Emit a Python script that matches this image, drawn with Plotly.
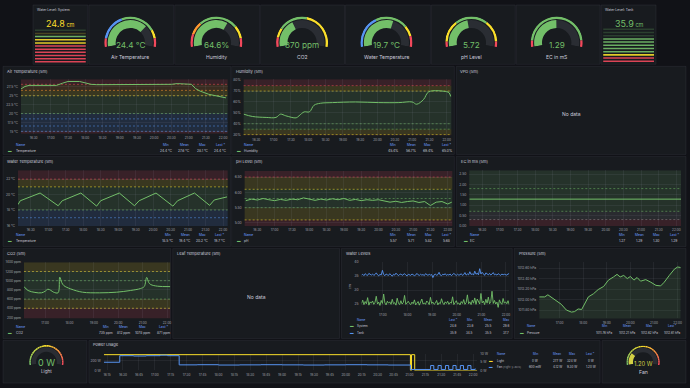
import plotly.graph_objects as go

FONT = "Inter"
W, H = 690, 388
DAY = "2024-06-01 "

BG = "#111217"; PANEL = "#181b1f"; BORDER = "rgba(204,204,220,0.07)"
TXT = "#ccccdc"; TICK = "#a3a5ad"; HDR = "#6e9fff"; GRID = "rgba(204,204,220,0.07)"
GREEN = "#73bf69"; YELLOW = "#fade2a"; RED = "#f2495c"; BLUE = "#5794f2"
ORANGE = "#ff9830"; GRAY = "#8e8e8e"; ARCBG = "#2a2d33"

# ---------------- DATA ----------------
lvl_system_value = 24.8
lvl_tank_value = 35.9
air_value, hum_value, co2_value = 24.4, 64.6, 870
wt_value, ph_value, ec_value = 19.7, 5.72, 1.29
light_value, fan_value = 0.0, 1.20

air_time = ["16:08", "16:15", "16:22", "17:10", "17:20", "17:30", "17:50", "18:00", "18:10", "18:20",
            "19:30", "20:30", "20:40", "20:55", "21:05", "21:12", "21:20", "21:35", "21:50", "22:05"]
air_temp = [26.9, 27.6, 27.9, 27.9, 28.5, 29.0, 29.0, 28.5, 28.2, 28.1,
            28.1, 28.2, 28.4, 28.4, 28.2, 27.0, 26.3, 25.4, 24.9, 24.4]

hum_time = ["16:08", "16:23", "16:47", "17:04", "17:12", "17:21", "17:39", "17:44", "17:53", "18:02", "18:10",
            "18:21", "18:42", "19:22", "20:02", "20:37", "21:00", "21:08", "21:20", "21:29", "22:00", "22:04", "22:07"]
hum = [48.8, 46.7, 45.8, 45.8, 48.8, 47.3, 45.4, 47.3, 50.9, 50.9, 57.0,
       58.8, 59.4, 60.0, 59.4, 59.4, 60.0, 57.9, 62.4, 69.4, 69.4, 68.5, 65.0]

wt_time = ["16:08", "16:12", "16:46", "17:17", "17:24", "17:56", "18:23", "18:30", "19:02",
           "19:28", "19:36", "20:05", "20:34", "20:42", "21:11", "21:37", "21:45", "22:07"]
wt = [18.7, 19.2, 20.2, 18.55, 19.2, 20.2, 18.5, 19.2, 20.2,
      18.55, 19.2, 20.2, 18.5, 19.2, 20.2, 18.6, 19.3, 19.7]

ph_time = ["16:10", "16:20", "16:30", "16:40", "16:50", "17:00", "17:10", "17:20", "17:30", "17:40",
           "17:50", "18:00", "18:10", "18:20", "18:30", "18:40", "18:50", "19:00", "19:10", "19:20",
           "19:30", "19:40", "19:50", "20:00", "20:10", "20:20", "20:30", "20:40", "20:50", "21:00",
           "21:10", "21:20", "21:30", "21:40", "21:50", "22:00", "22:07"]
ph = [5.73, 5.78, 5.75, 5.80, 5.76, 5.73, 5.77, 5.74, 5.78, 5.76,
      5.82, 5.77, 5.74, 5.78, 5.75, 5.79, 5.76, 5.80, 5.74, 5.77,
      5.73, 5.76, 5.74, 5.76, 5.72, 5.68, 5.71, 5.67, 5.70, 5.72,
      5.67, 5.70, 5.57, 5.68, 5.70, 5.62, 5.68]

ec_time = ["16:08", "16:38", "17:08", "17:38", "18:08", "18:38", "19:08", "19:38", "20:08", "20:38", "21:08", "21:38", "22:08"]
ec = [1.29, 1.29, 1.28, 1.29, 1.30, 1.29, 1.29, 1.28, 1.27, 1.28, 1.29, 1.29, 1.29]

co2_time = ["16:08", "16:18", "16:35", "16:51", "17:00", "17:07", "17:14", "17:21", "17:32", "17:36", "17:41", "17:46",
            "18:03", "18:32", "19:14", "19:56", "20:30", "20:55", "21:04", "21:10", "21:15", "21:20", "21:37", "22:08"]
co2 = [873, 787, 745, 736, 770, 815, 790, 750, 738, 1078, 960, 894,
       821, 750, 736, 750, 787, 830, 873, 1072, 960, 916, 880, 871]

lvl_tank = [35.4, 35.7, 35.2, 35.9, 35.5, 35.3, 36.0, 35.6, 35.4, 35.8,
            35.3, 35.6, 36.2, 35.5, 35.1, 35.7, 35.4, 37.1, 35.6, 35.2,
            35.8, 35.5, 35.3, 35.9, 35.6, 35.0, 35.7, 35.4, 36.1, 35.5,
            35.2, 35.6, 35.8, 35.3, 35.5, 35.9, 35.4, 35.1, 35.7, 35.5,
            35.3, 35.8, 35.6, 35.2, 35.4, 36.0, 35.5, 35.3, 35.7, 35.4,
            35.6, 35.2, 35.9, 35.5, 35.3, 35.7, 35.4, 35.6, 34.5, 35.5,
            35.8, 35.3, 35.6, 36.4, 35.4, 35.2, 35.7, 35.5, 35.9, 35.3,
            35.6, 35.4, 35.8, 35.2, 35.5, 36.0, 35.6, 35.3, 35.7, 35.4,
            35.5, 35.9, 35.3, 35.6, 36.3, 35.4, 35.8, 35.5, 36.6, 35.6,
            35.9, 35.4, 36.8, 35.7, 36.1, 35.5, 37.7, 35.8, 36.4, 35.6,
            35.3, 36.2, 35.7, 35.5, 36.0, 35.4, 35.8, 36.3, 35.5, 35.7,
            35.4, 35.9, 35.6, 35.3, 35.8, 35.5, 35.7, 35.6, 35.4, 35.8,
            35.9]
lvl_system = [25.2, 26.4, 24.8, 25.9, 25.1, 27.3, 24.6, 25.8, 25.3, 26.1,
              24.9, 25.6, 27.8, 25.0, 25.7, 24.5, 26.3, 25.2, 28.6, 25.4,
              24.7, 26.0, 25.3, 25.8, 24.9, 26.7, 25.1, 25.5, 24.6, 27.1,
              25.3, 24.8, 26.2, 25.0, 25.6, 28.1, 24.9, 25.4, 26.0, 25.2,
              24.8, 25.7, 25.1, 26.5, 24.7, 25.3, 25.9, 24.6, 25.5, 26.8,
              25.0, 25.4, 24.9, 26.1, 25.6, 24.8, 27.4, 25.2, 25.7, 24.9,
              25.3, 26.3, 24.7, 25.5, 25.1, 26.9, 25.4, 24.8, 25.8, 25.2,
              26.0, 24.9, 25.6, 25.3, 27.6, 24.8, 25.5, 26.2, 25.0, 25.4,
              24.7, 25.9, 25.2, 26.6, 24.9, 25.5, 28.3, 25.1, 25.8, 24.8,
              26.4, 25.3, 27.2, 24.9, 26.8, 25.6, 25.0, 28.8, 25.4, 26.1,
              24.8, 26.7, 25.3, 27.5, 25.1, 25.9, 29.6, 25.2, 26.3, 25.0,
              25.7, 23.8, 26.5, 25.4, 24.9, 27.0, 25.3, 25.8, 25.1, 26.2,
              24.8]
lvl_time = ["%02d:%02d" % divmod(16 * 60 + 8 + 3 * i, 60) for i in range(len(lvl_tank))]

prs_time = ["16:08", "16:22", "16:30", "16:38", "16:51", "17:04", "17:17", "17:30", "17:38", "17:47", "17:56",
            "18:04", "18:13", "18:26", "18:38", "18:52", "19:04", "19:17", "19:26", "19:34", "19:43", "19:52",
            "20:00", "20:09", "20:17", "20:26", "20:39", "20:52", "21:05", "21:17", "21:26", "21:39", "21:52",
            "22:00", "22:08"]
prs = [1012.05, 1012.05, 1012.09, 1012.05, 1011.99, 1011.91, 1011.80, 1011.76, 1011.77, 1011.82, 1011.81,
       1011.92, 1012.05, 1012.11, 1012.19, 1012.25, 1012.37, 1012.43, 1012.48, 1012.43, 1012.46, 1012.40,
       1012.44, 1012.37, 1012.42, 1012.35, 1012.38, 1012.33, 1012.27, 1012.26, 1012.33, 1012.46, 1012.58,
       1012.62, 1012.61]

light_time = ["16:12", "21:01", "21:02", "21:05", "22:04"]
light = [324, 0, 324, 0, 0]
fan_time = ["16:12", "16:27", "16:40", "16:52", "17:05", "17:12", "17:23", "17:40", "18:00", "18:20", "18:40",
            "19:00", "19:20", "19:40", "20:00", "20:20", "20:40", "21:01", "21:20", "21:23", "21:27", "21:30",
            "21:34", "21:37", "21:41", "21:44", "21:48", "21:51", "21:55", "21:58", "22:02"]
fan = [5.0, 9.0, 8.8, 9.0, 9.3, 9.0, 3.4, 3.5, 3.3, 3.4, 3.5,
       3.4, 3.3, 3.4, 3.5, 3.4, 3.3, 0.6, 3.0, 0.6, 3.0, 0.6,
       3.0, 0.6, 3.0, 0.6, 3.0, 0.6, 3.0, 0.6, 1.2]

air_stats = ["24.4 °C", "27.6 °C", "28.1 °C", "24.4 °C"]
hum_stats = ["45.4%", "56.7%", "69.4%", "65.0%"]
wt_stats = ["18.5 °C", "19.4 °C", "20.2 °C", "19.7 °C"]
ph_stats = ["5.57", "5.71", "5.82", "5.68"]
ec_stats = ["1.27", "1.29", "1.30", "1.29"]
co2_stats = ["735 ppm", "812 ppm", "1078 ppm", "871 ppm"]
sys_stats = ["24.8", "23.8", "25.5", "29.6"]
tank_stats = ["35.9", "34.5", "35.5", "37.7"]
prs_stats = ["1011.76 hPa", "1012.21 hPa", "1012.62 hPa", "1012.61 hPa"]
light_stats = ["0 W", "277 W", "324 W", "0 W"]
fan_stats = ["600 mW", "4.12 W", "9.30 W", "1.20 W"]

air_steps = [(None, RED), (15, BLUE), (16.5, BLUE), (18.5, BLUE), (20, GREEN), (25, YELLOW), (26.5, ORANGE), (28.2, RED)]
hum_steps = [(None, RED), (30, YELLOW), (35, GREEN), (40, GREEN), (70, YELLOW), (75, RED)]
wt_steps = [(None, BLUE), (17, BLUE), (18, GREEN), (21, YELLOW), (22, RED)]
ph_steps = [(None, RED), (5.1, YELLOW), (5.5, GREEN), (5.8, GREEN), (6.1, YELLOW), (6.5, RED)]
ec_steps = [(None, RED), (0.3, GRAY), (0.7, GREEN), (1.8, GREEN)]
co2_steps = [(None, RED), (400, YELLOW), (600, GREEN), (1000, GREEN), (1200, YELLOW)]

g_air = dict(vmin=10, vmax=30, steps=[(10, RED), (12, BLUE), (18, GREEN), (26, YELLOW), (28, RED)], labels=[10, 12, 18, 26, 28, 30])
g_hum = dict(vmin=0, vmax=100, steps=[(0, RED), (15, ORANGE), (30, GREEN), (75, YELLOW), (90, RED)], labels=[0, 15, 30, 75, 90, 100])
g_co2 = dict(vmin=200, vmax=2000, steps=[(200, RED), (400, YELLOW), (600, GREEN), (1200, YELLOW)], labels=[200, 400, 600, 1200, 2000])
g_wt = dict(vmin=15, vmax=23, steps=[(15, BLUE), (18, GREEN), (21, YELLOW), (22, RED)], labels=[15, 18, 21, 22, 23])
g_ph = dict(vmin=5.0, vmax=6.6, steps=[(5.0, RED), (5.1, YELLOW), (5.5, GREEN), (6.1, YELLOW), (6.5, RED)], labels=[5.0, 5.5, 5.8, 6.1, 6.5, 6.6])
g_ec = dict(vmin=0.3, vmax=2.3, steps=[(0.3, RED), (0.45, GREEN), (2.15, RED)], labels=[0.3, 0.8, 1.3, 1.8, 2.3])

sys_bar = dict(vmin=18, vmax=26.2, n=11, steps=[(18, RED), (22.4, YELLOW), (23.9, GREEN), (24.6, YELLOW), (25.4, GREEN)])
tank_bar = dict(vmin=30, vmax=38, n=11, steps=[(30, RED), (31.5, YELLOW), (32.3, GREEN)])

# ---------------- HELPERS ----------------
def T(hm):
    return DAY + hm

def rgba(hexc, a):
    h = hexc.lstrip('#')
    return "rgba(%d,%d,%d,%s)" % (int(h[0:2], 16), int(h[2:4], 16), int(h[4:6], 16), a)

def mix(c1, c2, t):
    a = [int(c1[i:i + 2], 16) for i in (1, 3, 5)]
    b = [int(c2[i:i + 2], 16) for i in (1, 3, 5)]
    return "#%02x%02x%02x" % tuple(round(a[k] + (b[k] - a[k]) * t) for k in range(3))

def color_at(steps, v):
    c = steps[0][1]
    for lo, col in steps:
        if lo is None or v >= lo:
            c = col
    return c

def xr(n): return "x" if n == 1 else "x%d" % n
def yr(n): return "y" if n == 1 else "y%d" % n
def xk(n): return "xaxis" if n == 1 else "xaxis%d" % n
def yk(n): return "yaxis" if n == 1 else "yaxis%d" % n

fig = go.Figure()
layout = dict(width=W, height=H, margin=dict(l=0, r=0, t=0, b=0), paper_bgcolor=BG,
              plot_bgcolor="rgba(0,0,0,0)", showlegend=False, hovermode=False,
              font=dict(family=FONT, color=TXT, size=5))
shapes, annotations = [], []

def text(x, y, s, size=3.3, color=TXT, xanchor="left", yanchor="middle"):
    annotations.append(dict(x=x / W, y=1 - y / H, xref="paper", yref="paper", text=s, showarrow=False,
                            font=dict(size=size, color=color, family=FONT), xanchor=xanchor, yanchor=yanchor,
                            borderpad=0))

panels = [(33, 3, 88, 63), (89, 3, 174, 63), (175, 3, 260, 63), (261, 3, 345, 63), (346, 3, 431, 63),
          (432, 3, 516, 63), (517, 3, 601, 63), (602, 3, 657, 63),
          (3, 65, 231, 154), (232, 65, 455, 154), (457, 65, 687, 154),
          (3, 156, 231, 247), (232, 156, 455, 247), (457, 156, 687, 247),
          (3, 249, 171, 340), (173, 249, 340, 340), (342, 249, 513, 340), (515, 249, 687, 340),
          (3, 342, 87, 385), (89, 342, 601, 385), (603, 342, 687, 385)]
for (a, b, c, d) in panels:
    shapes.append(dict(type="rect", xref="paper", yref="paper", x0=a / W, x1=c / W, y0=1 - d / H, y1=1 - b / H,
                       fillcolor=PANEL, line=dict(color=BORDER, width=1), layer="below"))

def ts_axes(n, box, yrange, ydtick, yfmt, ysuf, xdtick, xtick0, xrange=("16:08", "22:08")):
    x0, x1, y0, y1 = box
    layout[xk(n)] = dict(domain=[x0 / W, x1 / W], anchor=yr(n), type="date", range=[T(xrange[0]), T(xrange[1])],
                         dtick=xdtick * 60000, tick0=T(xtick0), tickformat="%H:%M", showgrid=True,
                         gridcolor=GRID, gridwidth=1, zeroline=False, showline=False, ticks="",
                         tickfont=dict(size=3.1, color=TICK), ticklabelstandoff=1)
    layout[yk(n)] = dict(domain=[1 - y1 / H, 1 - y0 / H], anchor=xr(n), range=list(yrange), dtick=ydtick,
                         tickformat=yfmt, ticksuffix=ysuf, showgrid=True, gridcolor=GRID, gridwidth=1,
                         zeroline=False, showline=False, ticks="", tickfont=dict(size=3.3, color=TICK),
                         ticklabelstandoff=2)

def bands(n, steps, yrange):
    for i, (lo, c) in enumerate(steps):
        lo_v = yrange[0] if lo is None else max(lo, yrange[0])
        hi_v = steps[i + 1][0] if i + 1 < len(steps) else yrange[1]
        hi_v = min(hi_v, yrange[1])
        shapes.append(dict(type="rect", xref=xr(n) + " domain", yref=yr(n), x0=0, x1=1, y0=lo_v, y1=hi_v,
                           fillcolor=rgba(c, 0.15), line=dict(width=0), layer="below"))
        if lo is not None:
            shapes.append(dict(type="line", xref=xr(n) + " domain", yref=yr(n), x0=0, x1=1, y0=lo, y1=lo,
                               line=dict(color=rgba(c, 0.65), width=0.8, dash="2px,2px"), layer="below"))

def line(n, times, vals, color, shape="linear", fill=None, yaxis=None, width=1):
    fig.add_trace(go.Scatter(x=[T(t) for t in times], y=vals, mode="lines",
                             line=dict(color=color, width=width, shape=shape),
                             xaxis=xr(n), yaxis=yaxis or yr(n), fill=fill,
                             fillcolor=rgba(color, 0.12) if fill else None, hoverinfo="skip"))

def legend(name_x, sw_x, header_y, cols, headers, rows, size=3.3):
    text(name_x, header_y, "Name", size, HDR)
    for cx, h in zip(cols, headers):
        text(cx, header_y, h, size, HDR, "center")
    for (ry, name, color, vals) in rows:
        text(sw_x, ry, "▬", 3.6, color, "center")
        text(name_x, ry, name, size)
        for cx, v in zip(cols, vals):
            text(cx, ry, v, size, TXT, "center")

STAT4 = ["Min", "Mean", "Max", "Last *"]

# ---------------- TIME SERIES PANELS ----------------
r = (14.36, 29.64)
ts_axes(1, (21, 228, 78, 133), r, 2.5, None, " °C", 30, "16:30")
bands(1, air_steps, r)
line(1, air_time, air_temp, GREEN)
text(6, 70, "Air Temperature (5m)", 4)
legend(15, 10.5, 144, [166.7, 184.3, 202.3, 220.5], STAT4, [(150.5, "Temperature", GREEN, air_stats)])

r = (29.1, 80.9)
ts_axes(2, (244, 452, 78, 135), r, 10, None, "%", 30, "16:30")
bands(2, hum_steps, r)
line(2, hum_time, hum, GREEN, shape="spline")
text(235, 70, "Humidity (5m)", 4)
legend(243, 239, 144, [394, 411.7, 428.3, 447.3], STAT4, [(150.5, "Humidity", GREEN, hum_stats)])

text(460, 70, "VPD (5m)", 4)
text(572, 113, "No data", 5, xanchor="center")

r = (15.88, 23.15)
ts_axes(3, (18, 228, 170, 226.7), r, 2, None, " °C", 30, "16:30")
bands(3, wt_steps, r)
line(3, wt_time, wt, GREEN)
text(6, 161, "Water Temperature (5m)", 4)
legend(15, 10.5, 235, [168.3, 185.7, 202.3, 220], STAT4, [(241.7, "Temperature", GREEN, wt_stats)])

r = (4.89, 6.70)
ts_axes(4, (245, 453, 170.7, 226.7), r, 0.5, ".2f", "", 30, "16:30")
bands(4, ph_steps, r)
line(4, ph_time, ph, GREEN)
text(235, 161, "pH Level (5m)", 4)
legend(243, 239, 235, [394, 411.7, 429.3, 447.3], STAT4, [(241.7, "pH", GREEN, ph_stats)])

r = (-0.03, 2.69)
ts_axes(5, (470, 682, 170, 226.7), r, 0.5, ".2f", "", 30, "16:30")
bands(5, ec_steps, r)
line(5, ec_time, ec, GREEN)
text(461, 161, "EC in mS (5m)", 4)
legend(470, 466.5, 235, [623.3, 640, 657.3, 675], STAT4, [(241.7, "EC", GREEN, ec_stats)])

r = (180, 1400)
ts_axes(6, (24, 170.5, 263, 319.7), r, 200, None, " ppm", 60, "17:00")
bands(6, co2_steps, r)
line(6, co2_time, co2, GREEN, shape="spline")
text(6, 254, "CO2 (5m)", 4)
legend(15, 10.5, 328, [106, 123.3, 142.7, 163.3], STAT4, [(334, "CO2", GREEN, co2_stats)])

text(176, 254, "Leaf Temperature (5m)", 4)
text(256.5, 298, "No data", 5, xanchor="center")

r = (22.4, 40)
ts_axes(7, (362, 510, 263, 312.5), r, 5, None, "", 60, "17:00")
layout[yk(7)]["title"] = dict(text="cm", font=dict(size=3.3, color=TICK), standoff=3)
line(7, lvl_time, lvl_tank, BLUE, width=0.9)
line(7, lvl_time, lvl_system, GREEN, width=0.9)
text(345, 254, "Water Levels", 4)
legend(357, 352.5, 321.2, [454, 470.5, 488.5, 506.5], ["Last *", "Min", "Mean", "Max"],
       [(327.8, "System", GREEN, sys_stats), (334.2, "Tank", BLUE, tank_stats)], size=3.0)

r = (1011.64, 1012.71)
ts_axes(8, (540, 681.7, 263, 319.7), r, 0.2, ".2f", " hPa", 60, "17:00")
line(8, prs_time, prs, GREEN, fill="tozeroy")
text(519, 254, "Pressure (5m)", 4)
legend(527, 523, 327.3, [605, 628.3, 650, 673.3], STAT4, [(334, "Pressure", GREEN, prs_stats)], size=3.0)

ts_axes(9, (104, 478, 355.7, 372.3), (0, 337), 200, None, " W", 15, "16:15", xrange=("16:12", "22:04"))
layout[yk(10)] = dict(overlaying="y9", side="right", anchor="x9", range=[0, 10], dtick=5, ticksuffix=" W",
                      showgrid=False, zeroline=False, showline=False, ticks="",
                      tickfont=dict(size=3.3, color=TICK), ticklabelstandoff=2)
line(9, light_time, light, YELLOW, shape="hv")
line(9, fan_time, fan, BLUE, shape="hv", yaxis="y10")
text(92, 346.5, "Power Usage", 4)
legend(497, 492, 355.7, [536, 558.3, 572.7, 591.7], STAT4,
       [(362.3, "Light", YELLOW, light_stats),
        (369, "Fan <span style='color:#8e8e96'>(right y-axis)</span>", BLUE, fan_stats)], size=3.0)

# ---------------- GAUGES ----------------
SWEEP = 200
pcount = [0]

def gauge(cx, cy, R, vmin, vmax, value, steps, labels, vcolor, ring=(0.9, 0.09), arc=(0.56, 0.3), lsize=3.0):
    pcount[0] += 1
    pn = pcount[0]
    sub = "polar" if pn == 1 else "polar%d" % pn

    def ang(v):
        return (v - vmin) / (vmax - vmin) * SWEEP

    th, wd, cols = [], [], []
    for i, (lo, c) in enumerate(steps):
        hi = steps[i + 1][0] if i + 1 < len(steps) else vmax
        th.append((ang(lo) + ang(hi)) / 2)
        wd.append(ang(hi) - ang(lo))
        cols.append(c)
    fig.add_trace(go.Barpolar(theta=th, width=wd, r=[ring[1]] * len(th), base=[ring[0]] * len(th),
                              marker=dict(color=cols, line=dict(width=0)), subplot=sub, hoverinfo="skip"))
    fig.add_trace(go.Barpolar(theta=[SWEEP / 2], width=[SWEEP], r=[arc[1]], base=[arc[0]],
                              marker=dict(color=ARCBG, line=dict(width=0)), subplot=sub, hoverinfo="skip"))
    if value > vmin:
        fig.add_trace(go.Barpolar(theta=[ang(value) / 2], width=[ang(value)], r=[arc[1]], base=[arc[0]],
                                  marker=dict(color=vcolor, line=dict(width=0)), subplot=sub, hoverinfo="skip"))
    layout[sub] = dict(domain=dict(x=[(cx - R) / W, (cx + R) / W], y=[1 - (cy + 0.1736 * R) / H, 1 - (cy - R) / H]),
                       sector=[-10, 190], hole=0, bgcolor="rgba(0,0,0,0)",
                       radialaxis=dict(range=[0, 1], visible=False),
                       angularaxis=dict(rotation=190, direction="clockwise", showline=False, showgrid=False,
                                        ticks="", tickmode="array", tickvals=[ang(v) for v in labels],
                                        ticktext=["%g" % v for v in labels],
                                        tickfont=dict(size=lsize, color=TICK)))

top_gauges = [
    (130.5, air_value, g_air, "%.1f °C" % air_value, "Air Temperature"),
    (216.7, hum_value, g_hum, "%.1f%%" % hum_value, "Humidity"),
    (302.5, co2_value, g_co2, "%d ppm" % co2_value, "CO2"),
    (387.0, wt_value, g_wt, "%.1f °C" % wt_value, "Water Temperature"),
    (472.0, ph_value, g_ph, "%.2f" % ph_value, "pH Level"),
    (557.5, ec_value, g_ec, "%.2f" % ec_value, "EC in mS"),
]
for cx, v, g, vtxt, lab in top_gauges:
    vc = color_at(g["steps"], v)
    gauge(cx, 41, 26.5, g["vmin"], g["vmax"], v, g["steps"], g["labels"], vc)
    text(cx, 43.5, vtxt, 8.2, vc, "center")
    text(cx, 56, lab, 5, TXT, "center")

def gyr_steps(vmin, vmax, n=24):
    out = []
    for i in range(n):
        t = i / (n - 1)
        c = mix(GREEN, YELLOW, t * 2) if t < 0.5 else mix(YELLOW, RED, (t - 0.5) * 2)
        out.append((vmin + (vmax - vmin) * i / n, c))
    return out

light_steps = gyr_steps(0, 400)
gauge(46.5, 364, 17.5, 0, 400, light_value, light_steps, [], GREEN, ring=(0.9, 0.1), arc=(0.6, 0.26))
text(46.5, 364, "%g W" % light_value, 9, GREEN, "center")
text(46.5, 373.5, "Light", 4.6, TXT, "center")

fan_steps = gyr_steps(0, 5)
fan_col = "#d2cf44"
gauge(644, 364, 17, 0, 5, fan_value, fan_steps, [], fan_col, ring=(0.9, 0.1), arc=(0.6, 0.26))
text(644, 365, "%.2f W" % fan_value, 5.8, fan_col, "center")
text(644, 373.5, "Fan", 5.2, TXT, "center")

# ---------------- BAR GAUGES (LCD) ----------------
def bar_gauge(n, box, cfg, value, title, unit, tx, title_x):
    x0, x1, y0, y1 = box
    step = (cfg["vmax"] - cfg["vmin"]) / cfg["n"]
    centers = [cfg["vmin"] + (i + 0.5) * step for i in range(cfg["n"])]
    cols = [rgba(color_at(cfg["steps"], c), 0.9) if c <= value else rgba(color_at(cfg["steps"], c), 0.22)
            for c in centers]
    fig.add_trace(go.Bar(x=[1] * len(centers), y=centers, orientation="h", width=step * 0.48,
                         marker=dict(color=cols, line=dict(width=0)), xaxis=xr(n), yaxis=yr(n), hoverinfo="skip"))
    layout[xk(n)] = dict(domain=[x0 / W, x1 / W], anchor=yr(n), range=[0, 1], visible=False, fixedrange=True)
    layout[yk(n)] = dict(domain=[1 - y1 / H, 1 - y0 / H], anchor=xr(n), range=[cfg["vmin"], cfg["vmax"]],
                         visible=False, fixedrange=True)
    vc = color_at(cfg["steps"], value)
    text(title_x, 8, title, 3.4)
    text(tx, 21.5, "%.1f<span style='font-size:5.5px'> %s</span>" % (value, unit), 9, vc, "center")

bar_gauge(11, (35, 86, 27, 62), sys_bar, lvl_system_value, "Water Level: System", "cm", 61, 36)
bar_gauge(12, (604, 655, 26, 61.5), tank_bar, lvl_tank_value, "Water Level: Tank", "cm", 630, 605)

layout["shapes"] = shapes
layout["annotations"] = annotations
fig.update_layout(**layout)
fig.write_html("out.html", config={"displayModeBar": False},
               post_script="document.body.style.margin='0';document.body.style.overflow='hidden';")
